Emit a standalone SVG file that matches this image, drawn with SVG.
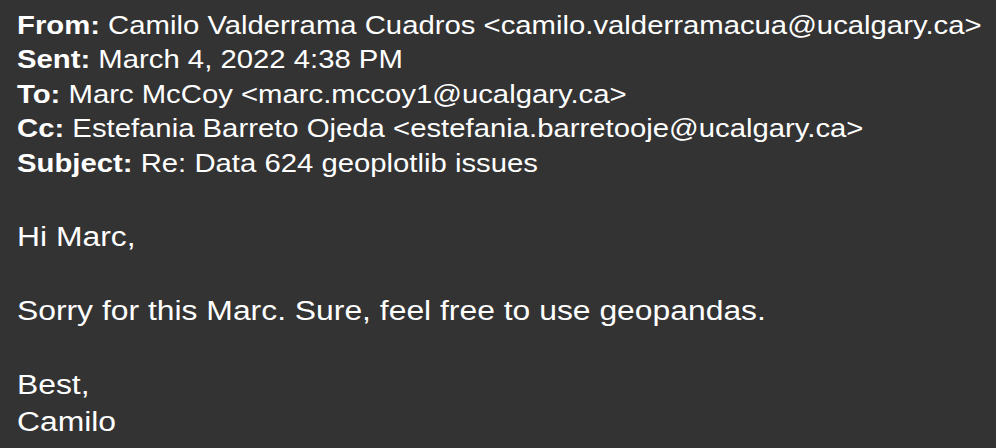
<svg xmlns="http://www.w3.org/2000/svg" width="996" height="448" viewBox="0 0 996 448">
<style>
.h{font-family:"Liberation Sans",Arial,sans-serif;font-size:25.5px;fill:#ffffff}
.b{font-family:"Liberation Sans",Arial,sans-serif;font-size:28px;fill:#ffffff}
.k{font-weight:bold}
</style>
<rect width="996" height="448" fill="#333333"/>
<g id="header" transform="matrix(1.149,0,0,1,0,0)">
<text class="h" x="14.8" y="34"><tspan class="k">From:</tspan> Camilo Valderrama Cuadros &lt;camilo.valderramacua@ucalgary.ca&gt;</text>
<text class="h" x="14.8" y="68.4"><tspan class="k">Sent:</tspan> March 4, 2022 4:38 PM</text>
<text class="h" x="14.8" y="102.8"><tspan class="k">To:</tspan> Marc McCoy &lt;marc.mccoy1@ucalgary.ca&gt;</text>
<text class="h" x="14.8" y="137.2"><tspan class="k">Cc:</tspan> Estefania Barreto Ojeda &lt;estefania.barretooje@ucalgary.ca&gt;</text>
<text class="h" x="14.8" y="171.6"><tspan class="k">Subject:</tspan> Re: Data 624 geoplotlib issues</text>
</g>
<g id="body" transform="matrix(1.138,0,0,1,0,0)">
<text class="b" x="14.9" y="246">Hi Marc,</text>
<text class="b" x="14.9" y="320">Sorry for this Marc. Sure, feel free to use geopandas.</text>
<text class="b" x="14.9" y="394">Best,</text>
<text class="b" x="14.9" y="431">Camilo</text>
</g>
</svg>
